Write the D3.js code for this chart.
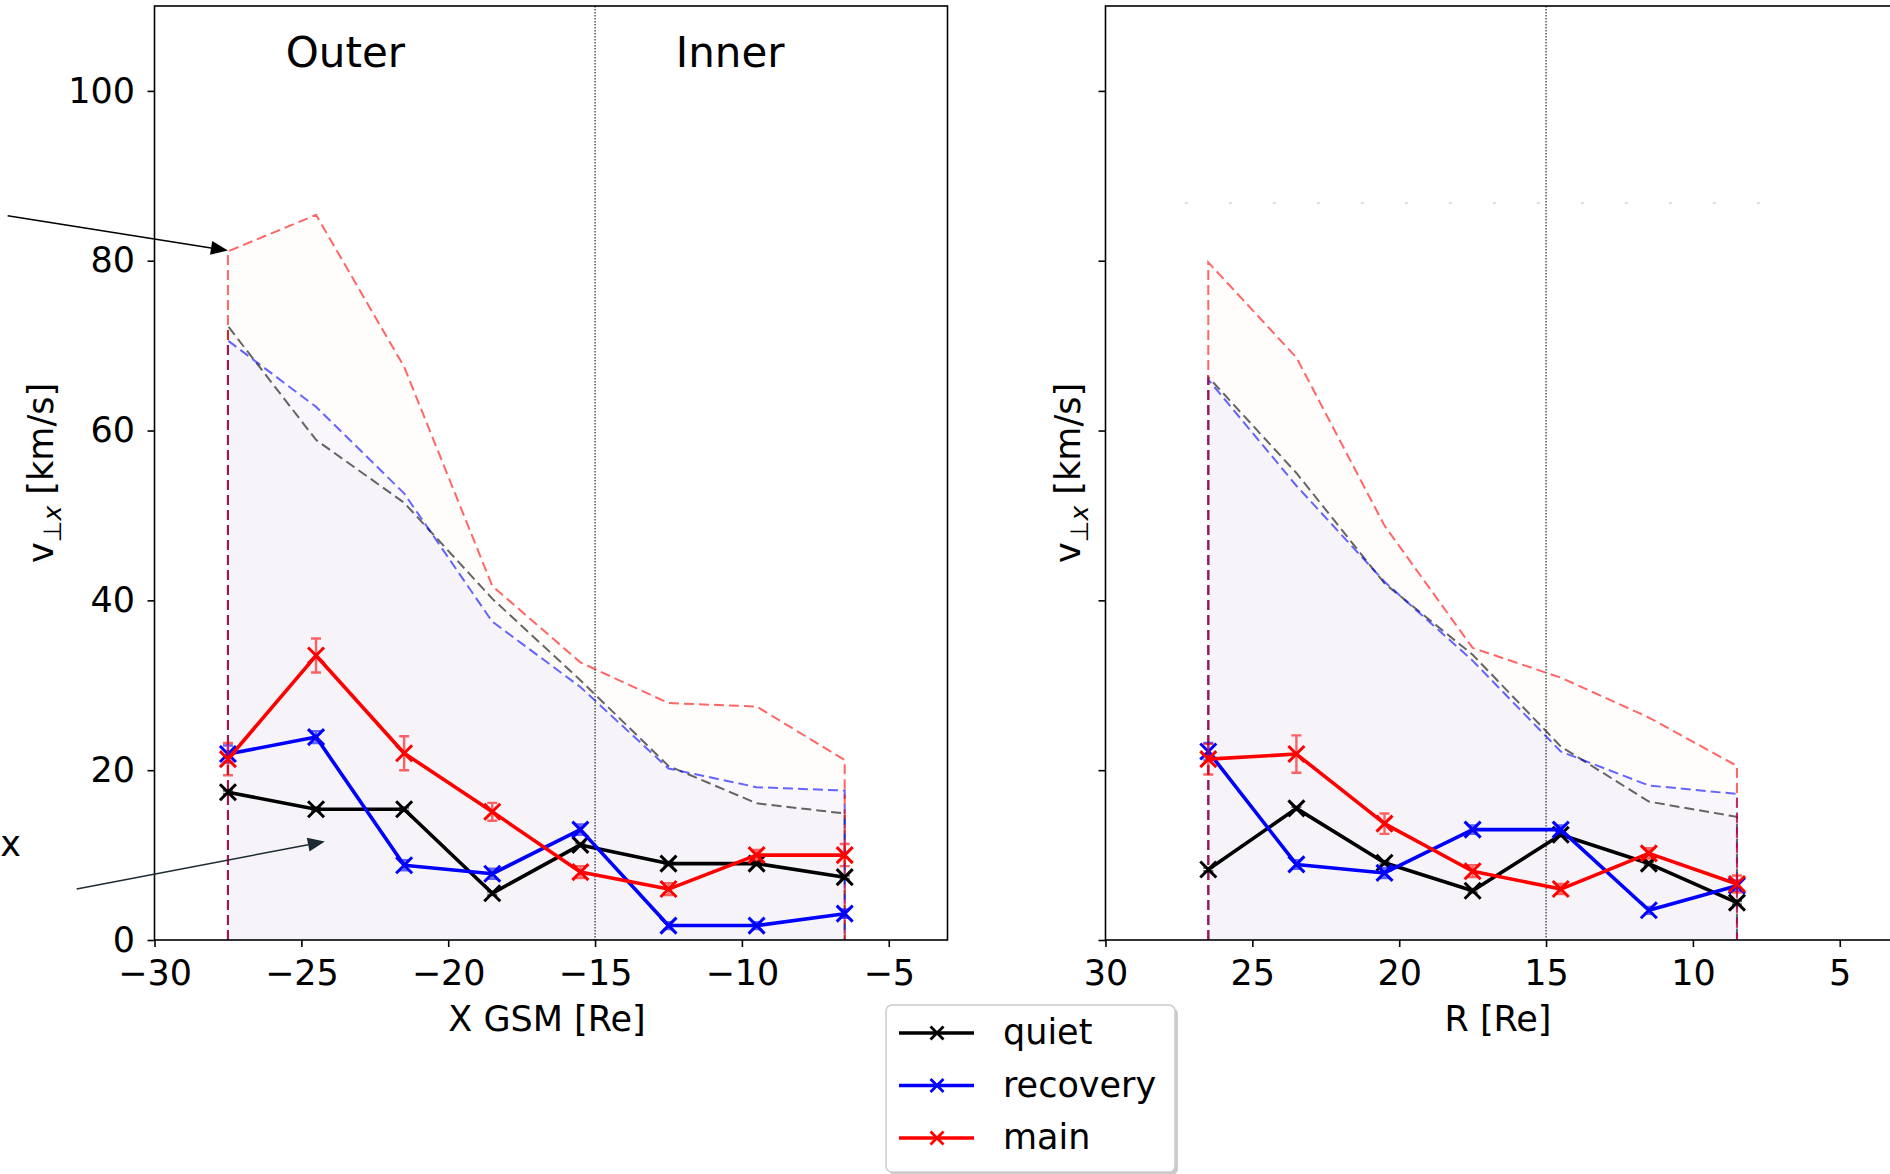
<!DOCTYPE html>
<html>
<head>
<meta charset="utf-8">
<script src="https://cdn.jsdelivr.net/npm/d3@7"></script>
<style>
  body { margin: 0; background: #fff; overflow: hidden; }
  text { font-family: "DejaVu Sans", sans-serif; fill: #000; }
</style>
</head>
<body>
<script>
const xGsm = [-27.5, -24.5, -21.5, -18.5, -15.5, -12.5, -9.5, -6.5]
const rPos = [26.5, 23.5, 20.5, 17.5, 14.5, 11.5, 8.5]

// left panel, X GSM
const quietL = [17.4, 15.4, 15.4, 5.5, 11.2, 9.0, 9.0, 7.4]
const recoveryL = [21.9, 23.9, 8.8, 7.8, 13.0, 1.7, 1.7, 3.1]
const mainL = [21.3, 33.5, 22.0, 15.1, 8.0, 6.0, 10.0, 10.0]
const quietErrL = [0.2, 0.2, 0.2, 0.2, 0.2, 0.2, 0.2, 0.2]
const recoveryErrL = [1.0, 0.7, 0.6, 0.6, 0.6, 0.4, 0.4, 0.5]
const mainErrL = [1.9, 2.0, 2.0, 1.05, 0.7, 0.7, 0.6, 1.3]
const quietTopL = [72.3, 58.9, 51.5, 40.2, 30.6, 20.5, 16.1, 14.9]
const recoveryTopL = [70.6, 62.8, 52.6, 37.5, 29.8, 20.2, 18.0, 17.6]
const mainTopL = [81.1, 85.4, 67.5, 41.7, 32.7, 27.9, 27.5, 21.2]

// right panel, R
const quietR = [8.3, 15.5, 9.1, 5.8, 12.4, 9.0, 4.4]
const recoveryR = [22.2, 8.9, 7.9, 13.0, 13.0, 3.5, 6.4]
const mainR = [21.3, 21.9, 13.7, 8.1, 6.0, 10.2, 6.6]
const quietErrR = [0.2, 0.2, 0.2, 0.2, 0.2, 0.2, 0.2]
const recoveryErrR = [1.0, 0.5, 0.6, 0.5, 0.5, 0.4, 0.6]
const mainErrR = [1.8, 2.2, 1.2, 0.7, 0.6, 0.6, 1.0]
const quietTopR = [66.3, 55.0, 42.0, 33.6, 22.8, 16.3, 14.5]
const recoveryTopR = [66.0, 53.5, 42.2, 32.9, 22.2, 18.2, 17.2]
const mainTopR = [79.8, 68.6, 48.8, 34.4, 30.9, 26.2, 20.5]
const refLineR = [27.3, 7.7]
const refLineValue = 86.8

const yTicks = [0, 20, 40, 60, 80, 100]
const xTicksL = [-30, -25, -20, -15, -10, -5]
const xTicksR = [30, 25, 20, 15, 10, 5]
const regionLabels = ['Outer', 'Inner']
const regionLabelX = [-23.5, -10.4]
const boundaryL = -15
const boundaryR = 15

const seriesNames = ['quiet', 'recovery', 'main']
const colors = ['#000000', '#0000ff', '#ff0000']
const fillColors = ['#000000', '#0000ff', '#ff8000']
const fillAlpha = [0.012, 0.025, 0.016]

let size = { width: 1890, height: 1174 }
let plot = { top: 6, bottom: 940, width: 793 }
let font = 35

let svg = d3.select('body')
  .append('svg')
  .attr('width', size.width)
  .attr('height', size.height)

let yScale = d3.scaleLinear().domain([0, 110]).range([plot.bottom, plot.top])

function xMark(g, x, y, r, color, w) {
  g.append('path')
    .attr('d', `M${x - r},${y - r}L${x + r},${y + r}M${x - r},${y + r}L${x + r},${y - r}`)
    .attr('stroke', color)
    .attr('stroke-width', w)
    .attr('fill', 'none')
}

function drawPanel(opts) {
  let xScale = d3.scaleLinear().domain(opts.domain).range([opts.left, opts.left + plot.width])
  let g = svg.append('g')
  let xs = opts.xs

  // shaded envelopes
  let area = d3.area()
    .x(d => xScale(d[0]))
    .y0(yScale(0))
    .y1(d => yScale(d[1]))
  opts.tops.forEach((top, i) => {
    g.append('path')
      .attr('d', area(xs.map((x, j) => [x, top[j]])))
      .attr('fill', fillColors[i])
      .attr('fill-opacity', fillAlpha[i])
  })

  g.append('line')
    .attr('x1', xScale(opts.boundary)).attr('x2', xScale(opts.boundary))
    .attr('y1', plot.top).attr('y2', plot.bottom)
    .attr('stroke', '#000')
    .attr('stroke-width', 1)
    .attr('stroke-dasharray', '1.5,1.5')

  let line = d3.line().x(d => xScale(d[0])).y(d => yScale(d[1]))
  opts.tops.forEach((top, i) => {
    let pts = [[xs[0], 0]].concat(xs.map((x, j) => [x, top[j]]), [[xs[xs.length - 1], 0]])
    g.append('path')
      .attr('d', line(pts))
      .attr('fill', 'none')
      .attr('stroke', colors[i])
      .attr('stroke-opacity', 0.6)
      .attr('stroke-width', 2)
      .attr('stroke-dasharray', '10,5')
  })

  opts.series.forEach((vals, i) => {
    let errs = opts.errs[i]
    xs.forEach((x, j) => {
      let cx = xScale(x)
      let lo = yScale(vals[j] - errs[j]), hi = yScale(vals[j] + errs[j])
      g.append('path')
        .attr('d', `M${cx},${lo}L${cx},${hi}M${cx - 5},${lo}L${cx + 5},${lo}M${cx - 5},${hi}L${cx + 5},${hi}`)
        .attr('stroke', colors[i])
        .attr('stroke-opacity', 0.6)
        .attr('stroke-width', 2.4)
        .attr('fill', 'none')
    })
    g.append('path')
      .attr('d', line(xs.map((x, j) => [x, vals[j]])))
      .attr('fill', 'none')
      .attr('stroke', colors[i])
      .attr('stroke-width', 3.6)
      .attr('stroke-linejoin', 'round')
    xs.forEach((x, j) => xMark(g, xScale(x), yScale(vals[j]), 8, colors[i], 3))
  })

  if (opts.ref) {
    g.append('line')
      .attr('x1', xScale(opts.ref[0])).attr('x2', xScale(opts.ref[1]))
      .attr('y1', yScale(refLineValue)).attr('y2', yScale(refLineValue))
      .attr('stroke', '#bbb')
      .attr('stroke-width', 1)
      .attr('stroke-dasharray', '3,41')
  }

  // spines
  g.append('rect')
    .attr('x', opts.left).attr('y', plot.top)
    .attr('width', plot.width).attr('height', plot.bottom - plot.top)
    .attr('fill', 'none')
    .attr('stroke', '#000')
    .attr('stroke-width', 1.6)

  let xAxis = g.append('g')
    .attr('transform', 'translate(0,' + plot.bottom + ')')
    .call(d3.axisBottom(xScale).tickValues(opts.ticks).tickSize(7).tickPadding(13))
  let yAxis = g.append('g')
    .attr('transform', 'translate(' + opts.left + ',0)')
    .call(d3.axisLeft(yScale).tickValues(yTicks).tickSize(7).tickPadding(12.5))
  ;[xAxis, yAxis].forEach(a => {
    a.select('.domain').remove()
    a.selectAll('line').attr('stroke', '#000').attr('stroke-width', 1.6)
    a.selectAll('text').style('font-size', font + 'px').attr('fill', '#000')
      .style('font-family', '"DejaVu Sans", sans-serif')
  })
  if (!opts.yLabels) yAxis.selectAll('text').remove()

  g.append('text')
    .attr('x', opts.left + plot.width / 2 - 4)
    .attr('y', 1031)
    .attr('text-anchor', 'middle')
    .style('font-size', font + 'px')
    .text(opts.xLabel)

  let yl = g.append('text')
    .attr('transform', 'translate(' + opts.yLabelX + ',' + ((plot.top + plot.bottom) / 2) + ')rotate(-90)')
    .attr('text-anchor', 'middle')
    .style('font-size', font + 'px')
  yl.append('tspan').text('v')
  yl.append('tspan').attr('dy', 8).style('font-size', '25px').text('⊥')
  yl.append('tspan').style('font-size', '25px').style('font-style', 'italic').text('x')
  yl.append('tspan').attr('dy', -8).text(' [km/s]')

  return xScale
}

let xL = drawPanel({
  left: 154.5, domain: [-30, -3], xs: xGsm, ticks: xTicksL, boundary: boundaryL,
  series: [quietL, recoveryL, mainL],
  errs: [quietErrL, recoveryErrL, mainErrL],
  tops: [quietTopL, recoveryTopL, mainTopL],
  xLabel: 'X GSM [Re]', yLabels: true, yLabelX: 53
})

drawPanel({
  left: 1105.5, domain: [30, 3], xs: rPos, ticks: xTicksR, boundary: boundaryR,
  series: [quietR, recoveryR, mainR],
  errs: [quietErrR, recoveryErrR, mainErrR],
  tops: [quietTopR, recoveryTopR, mainTopR],
  ref: refLineR,
  xLabel: 'R [Re]', yLabels: false, yLabelX: 1080
})

regionLabels.forEach((t, i) => {
  svg.append('text')
    .attr('x', xL(regionLabelX[i]))
    .attr('y', 67)
    .attr('text-anchor', 'middle')
    .style('font-size', '42px')
    .text(t)
})

// annotation arrows (data coords of the left panel)
function arrow(from, to, color) {
  let x1 = xL(from[0]), y1 = yScale(from[1])
  let x2 = xL(to[0]), y2 = yScale(to[1])
  let a = Math.atan2(y2 - y1, x2 - x1)
  let len = 17, hw = 7
  let bx = x2 - len * Math.cos(a), by = y2 - len * Math.sin(a)
  svg.append('line')
    .attr('x1', x1).attr('y1', y1).attr('x2', bx).attr('y2', by)
    .attr('stroke', color).attr('stroke-width', 1.5)
  svg.append('path')
    .attr('d', `M${x2},${y2}L${bx - hw * Math.sin(a)},${by + hw * Math.cos(a)}L${bx + hw * Math.sin(a)},${by - hw * Math.cos(a)}Z`)
    .attr('fill', color)
}
arrow([-35.0, 85.3], [-27.5, 81.2], '#000')
arrow([-32.65, 6.0], [-24.2, 11.6], '#1c2b33')

svg.append('text')
  .attr('x', xL(-35.25))
  .attr('y', yScale(9.9))
  .style('font-size', font + 'px')
  .text('x')

// legend
let lg = svg.append('g')
lg.append('rect')
  .attr('x', 889).attr('y', 1008).attr('width', 289).attr('height', 167)
  .attr('rx', 6).attr('fill', '#999').attr('fill-opacity', 0.5)
lg.append('rect')
  .attr('x', 886).attr('y', 1005).attr('width', 289).attr('height', 167)
  .attr('rx', 6).attr('fill', '#fff').attr('stroke', '#ccc').attr('stroke-width', 1.5)
seriesNames.forEach((name, i) => {
  let cy = 1033 + i * 52.5
  lg.append('line')
    .attr('x1', 899).attr('x2', 974).attr('y1', cy).attr('y2', cy)
    .attr('stroke', colors[i]).attr('stroke-width', 3.6)
  xMark(lg, 937, cy, 6.5, colors[i], 2.8)
  lg.append('text')
    .attr('x', 1003).attr('y', cy).attr('dy', '0.32em')
    .style('font-size', font + 'px')
    .text(name)
})
</script>
</body>
</html>
